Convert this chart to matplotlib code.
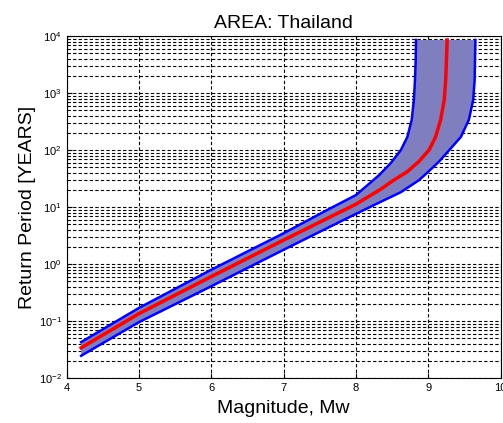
import numpy as np
import matplotlib
matplotlib.use("Agg")
import matplotlib.pyplot as plt

plt.rcParams['font.family'] = ['Liberation Sans', 'DejaVu Sans']
plt.rcParams['mathtext.fontset'] = 'custom'
plt.rcParams['mathtext.rm'] = 'Liberation Sans'

# values (log10 of return period in years)
mag_mid = [4.2, 5.0, 6.0, 7.0, 7.65, 8.0, 8.34, 8.52, 8.71, 8.87, 9.01, 9.10, 9.17, 9.22, 9.24, 9.25, 9.26]
log_mid = [-1.47, -0.87, -0.22, 0.42, 0.83, 1.05, 1.31, 1.47, 1.62, 1.80, 2.0, 2.23, 2.53, 2.88, 3.23, 3.58, 3.93]

mag_hi = [4.2, 5.0, 6.0, 7.0, 7.65, 8.0, 8.32, 8.48, 8.62, 8.71, 8.77, 8.80, 8.815, 8.825, 8.83]
log_hi = [-1.37, -0.77, -0.10, 0.54, 0.98, 1.21, 1.56, 1.77, 2.0, 2.23, 2.53, 2.88, 3.23, 3.58, 3.93]

mag_lo = [4.2, 5.0, 6.0, 7.0, 7.65, 8.0, 8.34, 8.62, 8.87, 9.0, 9.15, 9.29, 9.45, 9.56, 9.62, 9.64, 9.645, 9.65]
log_lo = [-1.61, -1.02, -0.39, 0.25, 0.66, 0.88, 1.09, 1.26, 1.47, 1.62, 1.80, 2.0, 2.23, 2.53, 2.88, 3.23, 3.58, 3.93]

x_ticks = [4, 5, 6, 7, 8, 9, 10]

rp_mid = 10 ** np.array(log_mid)
rp_hi = 10 ** np.array(log_hi)
rp_lo = 10 ** np.array(log_lo)

fig = plt.figure(figsize=(5.03, 4.23), dpi=100)
ax = fig.add_axes([0.1326, 0.1064, 0.8628, 0.8085])

# band between the two bounds
poly_x = list(mag_hi) + list(mag_lo[::-1])
poly_y = list(rp_hi) + list(rp_lo[::-1])
ax.fill(poly_x, poly_y, color='#7f7fbf', lw=0, zorder=2)
ax.plot(mag_hi, rp_hi, color='#0000ff', lw=1.8, zorder=3)
ax.plot(mag_lo, rp_lo, color='#0000ff', lw=1.8, zorder=3)
ax.plot(mag_mid, rp_mid, color='#ff0000', lw=2.5, zorder=4)

ax.set_yscale('log')
ax.set_xlim(4, 10)
ax.set_ylim(1e-2, 1e4)
ax.set_xticks(x_ticks)

ax.grid(True, which='major', axis='x', color='black', ls=(0, (3, 2)), lw=0.8)
ax.grid(True, which='both', axis='y', color='black', ls=(0, (3, 2)), lw=0.8)
ax.set_axisbelow(True)

ax.tick_params(which='both', direction='in', labelsize=8, top=False, right=False)
ax.tick_params(which='minor', length=2)

ax.set_title('AREA: Thailand', fontsize=14, pad=6)
ax.set_xlabel('Magnitude, Mw', fontsize=14, labelpad=5)
ax.set_ylabel('Return Period [YEARS]', fontsize=14, labelpad=2)

fig.savefig('out.png', dpi=100)
